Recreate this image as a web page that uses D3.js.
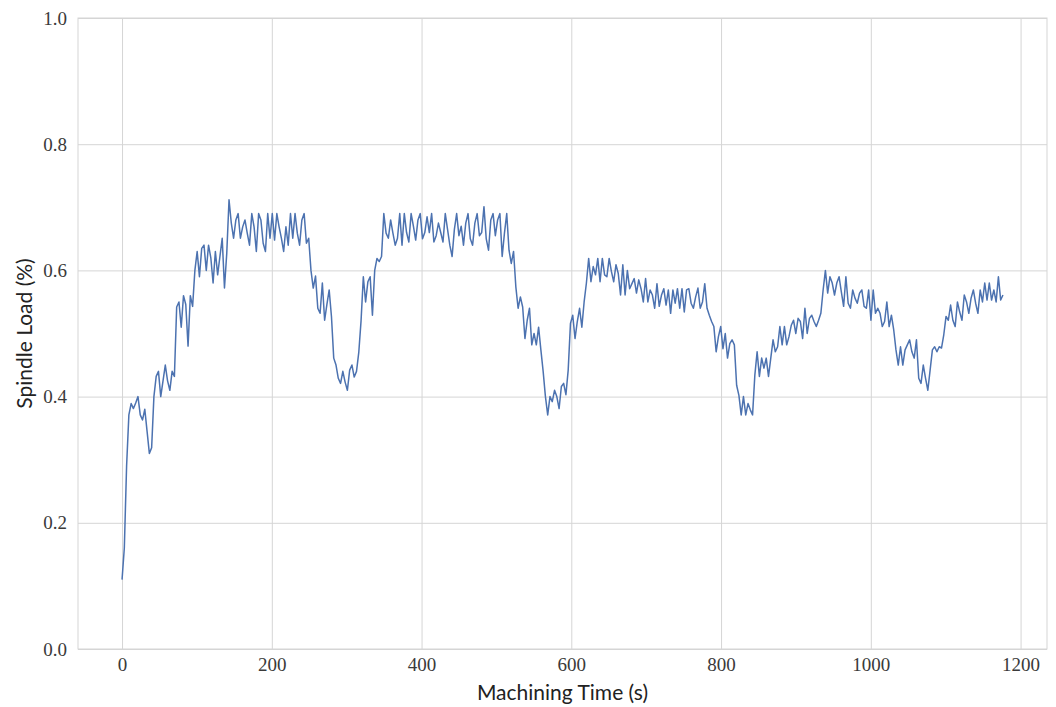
<!DOCTYPE html>
<html>
<head>
<meta charset="utf-8">
<script src="https://cdn.jsdelivr.net/npm/d3@7/dist/d3.min.js"></script>
<style>
  html, body { margin: 0; padding: 0; background: #ffffff; }
  svg { display: block; }
</style>
</head>
<body>
<svg id="chart" width="1056" height="707"></svg>
<script>
// ---- data ----
const xTicks = [0, 200, 400, 600, 800, 1000, 1200];
const yTicks = [0.0, 0.2, 0.4, 0.6, 0.8, 1.0];
const xLabel = "Machining Time (s)";
const yLabel = "Spindle Load (%)";
const sampleStep = 3.04; // seconds between samples
const spindleLoad = [
  // 0 - 124 s
  0.11, 0.16, 0.29, 0.371, 0.389, 0.381, 0.39, 0.40, 0.371, 0.363, 0.380, 0.345, 0.310, 0.319,
  0.40, 0.432, 0.44, 0.40, 0.425, 0.45, 0.425, 0.41, 0.44, 0.432, 0.542, 0.55, 0.51, 0.56,
  0.546, 0.48, 0.56, 0.543, 0.60, 0.63, 0.59, 0.635, 0.64, 0.60, 0.64, 0.62, 0.58, 0.63,
  // 126 - 252 s
  0.593, 0.622, 0.651, 0.572, 0.627, 0.712, 0.675, 0.651, 0.680, 0.690, 0.651, 0.669, 0.680,
  0.659, 0.640, 0.690, 0.669, 0.630, 0.690, 0.680, 0.643, 0.630, 0.690, 0.651, 0.690, 0.648,
  0.690, 0.669, 0.651, 0.630, 0.669, 0.640, 0.690, 0.651, 0.690, 0.659, 0.640, 0.680, 0.690,
  0.643, 0.651, 0.600, 0.572,
  // 254 - 372 s
  0.591, 0.54, 0.532, 0.58, 0.521, 0.546, 0.569, 0.527, 0.461, 0.450, 0.429, 0.421, 0.44,
  0.423, 0.41, 0.442, 0.45, 0.431, 0.44, 0.47, 0.52, 0.59, 0.55, 0.582, 0.59, 0.529, 0.60,
  0.619, 0.614, 0.622, 0.69, 0.659, 0.651, 0.68, 0.659, 0.64, 0.651, 0.69, 0.64,
  // 375 - 499 s
  0.69, 0.66, 0.645, 0.69, 0.67, 0.648, 0.68, 0.69, 0.65, 0.66, 0.685, 0.66, 0.69, 0.645,
  0.655, 0.675, 0.66, 0.645, 0.69, 0.665, 0.64, 0.622, 0.665, 0.69, 0.655, 0.67, 0.64, 0.675,
  0.69, 0.65, 0.64, 0.675, 0.69, 0.655, 0.66, 0.701, 0.65, 0.632, 0.68, 0.69, 0.655,
  // 502 - 632 s
  0.68, 0.69, 0.622, 0.659, 0.69, 0.632, 0.611, 0.630, 0.574, 0.54, 0.558, 0.542, 0.492,
  0.521, 0.54, 0.482, 0.50, 0.482, 0.51, 0.474, 0.44, 0.40, 0.371, 0.40, 0.392, 0.41, 0.40,
  0.381, 0.416, 0.421, 0.403, 0.442, 0.516, 0.529, 0.492, 0.519, 0.54, 0.51, 0.55, 0.58,
  0.619, 0.582, 0.606,
  // 634 - 759 s
  0.593, 0.619, 0.582, 0.619, 0.593, 0.59, 0.619, 0.598, 0.582, 0.609, 0.595, 0.561, 0.609,
  0.561, 0.6, 0.571, 0.579, 0.587, 0.564, 0.585, 0.571, 0.55, 0.587, 0.55, 0.569, 0.561,
  0.54, 0.579, 0.543, 0.561, 0.571, 0.545, 0.569, 0.532, 0.569, 0.548, 0.571, 0.54, 0.571,
  0.534, 0.569, 0.571,
  // 760 - 883 s
  0.548, 0.540, 0.558, 0.572, 0.540, 0.550, 0.579, 0.540, 0.529, 0.519, 0.511, 0.471, 0.495,
  0.511, 0.476, 0.500, 0.461, 0.484, 0.490, 0.482, 0.418, 0.402, 0.371, 0.400, 0.371, 0.389,
  0.379, 0.371, 0.434, 0.471, 0.432, 0.461, 0.445, 0.461, 0.432, 0.461, 0.490, 0.471, 0.479,
  0.511, 0.482, 0.511,
  // 886 - 1012 s
  0.482, 0.495, 0.513, 0.521, 0.500, 0.524, 0.519, 0.492, 0.540, 0.500, 0.524, 0.529, 0.519,
  0.511, 0.521, 0.532, 0.569, 0.600, 0.564, 0.590, 0.580, 0.561, 0.580, 0.590, 0.566, 0.543,
  0.590, 0.548, 0.540, 0.569, 0.556, 0.548, 0.564, 0.569, 0.543, 0.540, 0.569, 0.521, 0.569,
  0.532, 0.540, 0.532,
  // 1015 - 1177 s
  0.511, 0.519, 0.550, 0.511, 0.529, 0.506, 0.474, 0.450, 0.479, 0.450, 0.474, 0.482, 0.490,
  0.471, 0.461, 0.490, 0.429, 0.421, 0.450, 0.429, 0.410, 0.442, 0.474, 0.479, 0.471, 0.479,
  0.477, 0.498, 0.527, 0.521, 0.545, 0.521, 0.511, 0.550, 0.534, 0.521, 0.561, 0.550, 0.532,
  0.556, 0.569, 0.548, 0.532, 0.569, 0.550, 0.580, 0.553, 0.580, 0.553, 0.569, 0.550, 0.590,
  0.553, 0.561
];

// ---- layout ----
const margin = { left: 78, right: 1056 - 1047, top: 18, bottom: 707 - 649 };
const W = 1056, H = 707;
const svg = d3.select("#chart");
const innerW = W - margin.left - margin.right;
const innerH = H - margin.top - margin.bottom;

const points = spindleLoad.map((v, i) => ({ t: i * sampleStep, v }));
const tMax = d3.max(points, d => d.t);
const pad = tMax * 0.05;

const x = d3.scaleLinear().domain([-pad, tMax + pad]).range([margin.left, margin.left + innerW]);
const y = d3.scaleLinear().domain([0, 1]).range([margin.top + innerH, margin.top]);

const gridColor = "#d5d5d5";
const textColor = "#3a3a3a";
const serif = "'Liberation Serif', 'DejaVu Serif', serif";
const sans = "Lato, 'Open Sans', 'DejaVu Sans', sans-serif";

// grid
const xAxis = d3.axisBottom(x).tickValues(xTicks).tickSize(-innerH).tickPadding(9).tickFormat(d3.format("d"));
const yAxis = d3.axisLeft(y).tickValues(yTicks).tickSize(-innerW).tickPadding(11).tickFormat(d3.format(".1f"));

const gx = svg.append("g").attr("transform", `translate(0,${margin.top + innerH})`).call(xAxis);
const gy = svg.append("g").attr("transform", `translate(${margin.left},0)`).call(yAxis);

[gx, gy].forEach(g => {
  g.select(".domain").remove();
  g.selectAll(".tick line").attr("stroke", gridColor).attr("stroke-width", 1);
  g.selectAll(".tick text")
    .attr("fill", textColor)
    .style("font-family", serif)
    .style("font-size", "19px");
});

// frame
svg.append("rect")
  .attr("x", margin.left).attr("y", margin.top)
  .attr("width", innerW).attr("height", innerH)
  .attr("fill", "none").attr("stroke", gridColor).attr("stroke-width", 1);

// line
const line = d3.line().x(d => x(d.t)).y(d => y(d.v));
svg.append("path")
  .datum(points)
  .attr("fill", "none")
  .attr("stroke", "#4c72b0")
  .attr("stroke-width", 1.5)
  .attr("stroke-linejoin", "round")
  .attr("d", line);

// axis labels
svg.append("text")
  .attr("x", margin.left + innerW / 2).attr("y", 700)
  .attr("text-anchor", "middle")
  .attr("fill", "#222")
  .style("font-family", sans).style("font-size", "21px")
  .text(xLabel);

svg.append("text")
  .attr("transform", `translate(32,${margin.top + innerH / 2}) rotate(-90)`)
  .attr("text-anchor", "middle")
  .attr("fill", "#222")
  .style("font-family", sans).style("font-size", "21px")
  .text(yLabel);
</script>
</body>
</html>
